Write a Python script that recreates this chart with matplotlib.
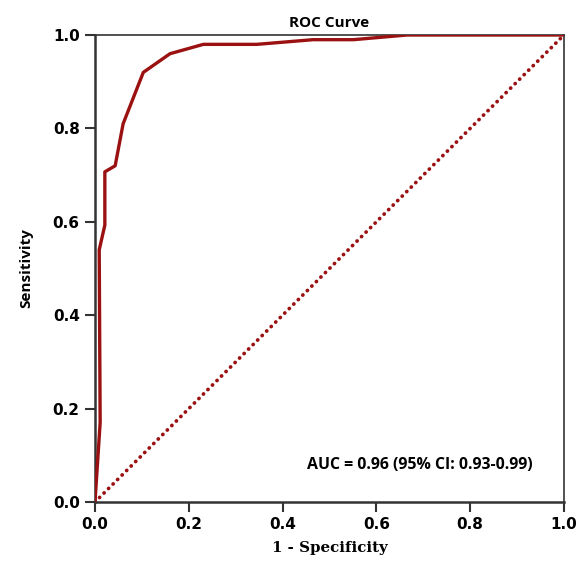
import matplotlib
matplotlib.use("Agg")
import matplotlib.pyplot as plt

# ROC curve points
fpr = [0.0, 0.011, 0.009, 0.021, 0.021, 0.043, 0.060, 0.103, 0.160, 0.231, 0.345, 0.465, 0.551, 0.665, 1.0]
tpr = [0.0, 0.17, 0.54, 0.593, 0.707, 0.72, 0.81, 0.92, 0.96, 0.98, 0.98, 0.99, 0.99, 1.0, 1.0]
ref_line = [0.0, 1.0]
ticks = [0.0, 0.2, 0.4, 0.6, 0.8, 1.0]
auc_text = "AUC = 0.96 (95% CI: 0.93-0.99)"

red = "#9B1111"

fig = plt.figure(figsize=(5.81, 5.74), dpi=100)
ax = fig.add_axes([0.1635, 0.1254, 0.8072, 0.8136])

ax.plot(fpr, tpr, color=red, lw=2.4, solid_joinstyle="round", zorder=3)
ax.plot(ref_line, ref_line, color=red, lw=2.7, linestyle=(0, (0.05, 1.65)),
        dash_capstyle="round", zorder=2)

ax.set_xlim(0, 1)
ax.set_ylim(0, 1)
ax.set_xticks(ticks)
ax.set_yticks(ticks)
ax.set_xticklabels([f"{t:.1f}" for t in ticks], fontsize=11, fontweight="bold", family="DejaVu Sans")
ax.set_yticklabels([f"{t:.1f}" for t in ticks], fontsize=11, fontweight="bold", family="DejaVu Sans")
ax.tick_params(direction="out", length=7, width=1.5, color="#333333", pad=4)

for side in ["left", "bottom"]:
    ax.spines[side].set_linewidth(1.8)
    ax.spines[side].set_color("#333333")
for side in ["top", "right"]:
    ax.spines[side].set_linewidth(1.2)
    ax.spines[side].set_color("#333333")

ax.set_title("ROC Curve", fontsize=11, fontweight="bold", family="Open Sans", pad=6)
ax.set_xlabel("1 - Specificity", fontsize=10.8, fontweight="bold", family="DejaVu Serif", labelpad=6)
ax.set_ylabel("Sensitivity", fontsize=11, fontweight="bold", family="Open Sans", labelpad=14)

ax.text(0.934, 0.079, auc_text, ha="right", va="center", fontsize=11.4,
        fontweight="bold", family="Open Sans")

fig.savefig("out.png", dpi=100)
